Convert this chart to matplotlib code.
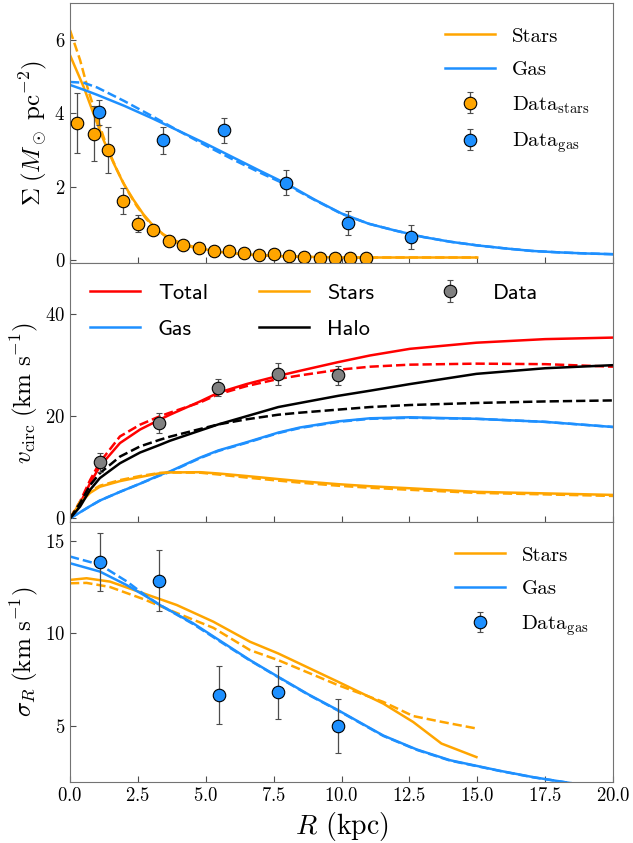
import matplotlib
matplotlib.use("Agg")
import matplotlib.pyplot as plt

plt.rcParams['font.family'] = 'serif'
plt.rcParams['font.serif'] = ['cmr10']
plt.rcParams['mathtext.fontset'] = 'cm'
plt.rcParams['axes.formatter.use_mathtext'] = True

orange = '#FFA500'
blue = '#1E90FF'

# surface density
r_sd_star = [0, 0.5, 0.86, 1.23, 1.6, 1.96, 2.33, 2.7, 3.07, 3.44, 3.8, 4.3, 4.8, 5.5, 6.5, 8, 10, 12.5, 15]
sd_star = [5.58, 4.72, 4.0, 3.28, 2.65, 2.1, 1.65, 1.25, 0.93, 0.70, 0.55, 0.41, 0.32, 0.22, 0.15, 0.1, 0.07, 0.07, 0.07]
r_sd_star_d = [0, 0.37, 0.67, 0.98, 1.35, 1.72, 2.09, 2.46, 2.82, 3.19, 3.56, 4.05, 4.8, 5.5, 6.5, 8, 10, 12.5, 15]
sd_star_d = [6.26, 5.45, 4.63, 3.91, 3.1, 2.47, 1.92, 1.47, 1.11, 0.84, 0.62, 0.43, 0.30, 0.21, 0.15, 0.1, 0.07, 0.07, 0.07]
r_sd_gas = [0, 0.5, 1, 2, 3, 4, 5, 6, 7, 8, 9, 10, 11, 12, 13, 14, 15, 16, 17, 18, 19, 20]
sd_gas = [4.77, 4.64, 4.5, 4.2, 3.87, 3.52, 3.17, 2.8, 2.43, 2.07, 1.65, 1.27, 0.99, 0.8, 0.63, 0.5, 0.4, 0.32, 0.25, 0.21, 0.18, 0.16]
sd_gas_d = [4.85, 4.83, 4.7, 4.33, 3.93, 3.52, 3.12, 2.74, 2.38, 2.04, 1.64, 1.26, 0.99, 0.8, 0.63, 0.5, 0.4, 0.32, 0.25, 0.21, 0.18, 0.16]

r_obs_star = [0.27, 0.88, 1.39, 1.96, 2.49, 3.07, 3.66, 4.17, 4.75, 5.31, 5.86, 6.42, 6.97, 7.52, 8.08, 8.63, 9.19, 9.76, 10.31, 10.89]
sd_obs_star = [3.73, 3.44, 2.99, 1.61, 0.99, 0.81, 0.51, 0.41, 0.33, 0.25, 0.24, 0.18, 0.15, 0.16, 0.12, 0.09, 0.06, 0.07, 0.06, 0.05]
sd_obs_star_err = [0.82, 0.75, 0.63, 0.36, 0.23, 0.08, 0.06, 0.05, 0.04, 0.04, 0.03, 0.03, 0.03, 0.03, 0.02, 0.02, 0.02, 0.02, 0.02, 0.02]
r_obs_gas1 = [1.08, 3.41, 5.67, 7.96, 10.25, 12.55]
sd_obs_gas = [4.02, 3.26, 3.53, 2.1, 1.0, 0.62]
sd_obs_gas_err = [0.34, 0.36, 0.34, 0.34, 0.33, 0.33]

# rotation curve
r_v = [0, 0.37, 0.74, 1.1, 1.84, 2.58, 3.31, 3.68, 4.79, 5.46, 6.5, 7.67, 8.47, 9.88, 11.05, 12.52, 14.97, 17.5, 20]
v_tot = [0, 2.95, 6.9, 10.2, 14.75, 17.4, 19.35, 20.3, 22.9, 24.6, 26.3, 27.9, 28.9, 30.6, 31.9, 33.2, 34.4, 35.1, 35.4]
v_tot_d = [0, 3.3, 7.5, 11.0, 16.05, 18.35, 20.0, 20.7, 22.7, 24.3, 25.9, 27.3, 28.0, 29.1, 29.7, 30.1, 30.3, 30.2, 29.7]
v_halo = [0, 2.3, 5.6, 7.9, 10.8, 12.9, 14.4, 15.2, 17.2, 18.4, 20.0, 21.8, 22.6, 24.0, 25.0, 26.3, 28.3, 29.4, 30.0]
v_halo_d = [0, 3.0, 6.5, 8.85, 12.1, 14.1, 15.4, 16.0, 17.5, 18.4, 19.4, 20.3, 20.7, 21.3, 21.8, 22.2, 22.6, 22.9, 23.1]
v_gas = [0, 1.2, 2.4, 3.5, 5.2, 6.8, 8.5, 9.2, 11.9, 13.3, 14.9, 16.8, 17.8, 19.0, 19.6, 19.8, 19.5, 18.9, 17.9]
v_gas_d = [0, 1.2, 2.4, 3.5, 5.2, 6.8, 8.4, 9.1, 11.8, 13.2, 14.8, 16.7, 17.7, 18.9, 19.5, 19.7, 19.5, 18.9, 17.9]
v_star = [0, 3.0, 5.0, 6.2, 7.3, 8.1, 8.85, 9.0, 9.05, 8.8, 8.3, 7.7, 7.3, 6.7, 6.3, 5.9, 5.2, 4.9, 4.6]
v_star_d = [0, 3.3, 5.3, 6.4, 7.5, 8.3, 8.9, 9.0, 8.95, 8.6, 8.0, 7.4, 7.0, 6.4, 6.0, 5.6, 5.0, 4.7, 4.4]
r_obs_v = [1.1, 3.29, 5.46, 7.67, 9.88]
v_obs = [11.0, 18.7, 25.6, 28.3, 28.0]
v_obs_err = [1.9, 1.9, 1.7, 2.1, 1.85]

# velocity dispersion
r_s_gas = [0, 1.1, 2.09, 2.82, 3.31, 4.54, 5.49, 6.63, 7.67, 8.8, 9.88, 11.54, 12.77, 14.0, 15.84, 17.06, 18.17, 20]
s_gas = [13.78, 13.33, 12.6, 11.98, 11.53, 10.54, 9.64, 8.56, 7.66, 6.7, 5.86, 4.5, 3.75, 3.17, 2.6, 2.26, 2.0, 1.6]
s_gas_d = [14.14, 13.7, 12.8, 12.0, 11.53, 10.5, 9.6, 8.54, 7.64, 6.68, 5.84, 4.48, 3.73, 3.15, 2.59, 2.25, 2.0, 1.6]
r_s_star = [0, 0.61, 1.47, 2.7, 3.93, 5.28, 6.63, 7.67, 9.88, 11.54, 12.64, 13.68, 14.97]
s_star = [12.88, 12.97, 12.79, 12.16, 11.53, 10.63, 9.55, 8.92, 7.39, 6.22, 5.23, 4.07, 3.34]
s_star_d = [12.7, 12.72, 12.5, 11.85, 11.1, 10.3, 9.1, 8.56, 7.21, 6.31, 5.55, 5.24, 4.88]
r_obs_s = [1.1, 3.29, 5.49, 7.67, 9.88]
s_obs = [13.85, 12.84, 6.67, 6.82, 5.0]
s_obs_err = [1.55, 1.65, 1.55, 1.45, 1.45]

fig = plt.figure(figsize=(6.33, 8.43), dpi=100)
ax1 = fig.add_axes([0.1106, 0.688, 0.8578, 0.3084])
ax2 = fig.add_axes([0.1106, 0.3808, 0.8578, 0.3072])
ax3 = fig.add_axes([0.1106, 0.0724, 0.8578, 0.3084])

lw = 1.8
ebkw = dict(fmt='o', ms=9, mec='k', mew=0.8, ecolor='0.3', elinewidth=0.9, capsize=2, capthick=0.9)

ax1.plot(r_sd_star, sd_star, color=orange, lw=lw, label='Stars')
ax1.plot(r_sd_star_d, sd_star_d, color=orange, lw=lw, ls='--')
ax1.plot(r_sd_gas, sd_gas, color=blue, lw=lw, label='Gas')
ax1.plot(r_sd_gas, sd_gas_d, color=blue, lw=lw, ls='--')
ax1.errorbar(r_obs_star, sd_obs_star, yerr=sd_obs_star_err, mfc=orange, label=r'Data$_{\rm stars}$', zorder=5, **ebkw)
ax1.errorbar(r_obs_gas1, sd_obs_gas, yerr=sd_obs_gas_err, mfc=blue, label=r'Data$_{\rm gas}$', zorder=5, **ebkw)
ax1.set_ylim(-0.08, 7)
ax1.set_yticks([0, 2, 4, 6])
ax1.set_ylabel(r'$\Sigma\;(M_\odot\ \mathrm{pc}^{-2})$', fontsize=18)
ax1.legend(loc='upper right', frameon=False, fontsize=15, handlelength=2.4, labelspacing=0.72, borderaxespad=0.75)

ax2.plot(r_v, v_tot, color='red', lw=lw, label='Total')
ax2.plot(r_v, v_tot_d, color='red', lw=lw, ls='--')
ax2.plot(r_v, v_gas, color=blue, lw=lw, label='Gas')
ax2.plot(r_v, v_gas_d, color=blue, lw=lw, ls='--')
ax2.plot(r_v, v_star, color=orange, lw=lw, label='Stars')
ax2.plot(r_v, v_star_d, color=orange, lw=lw, ls='--')
ax2.plot(r_v, v_halo, color='k', lw=lw, label='Halo')
ax2.plot(r_v, v_halo_d, color='k', lw=lw, ls='--')
ax2.errorbar(r_obs_v, v_obs, yerr=v_obs_err, mfc='grey', label='Data', zorder=5, **ebkw)
ax2.set_ylim(-0.7, 50)
ax2.set_yticks([0, 20, 40])
ax2.set_ylabel(r'$v_{\rm circ}\;(\mathrm{km\ s}^{-1})$', fontsize=18)
ax2.legend(loc='upper left', ncol=3, frameon=False, prop={'family': 'cmss10', 'size': 16},
           handlelength=2.25, columnspacing=2.3, labelspacing=0.75)

ax3.plot(r_s_star, s_star, color=orange, lw=lw, label='Stars')
ax3.plot(r_s_star, s_star_d, color=orange, lw=lw, ls='--')
ax3.plot(r_s_gas, s_gas, color=blue, lw=lw, label='Gas')
ax3.plot(r_s_gas, s_gas_d, color=blue, lw=lw, ls='--')
ax3.errorbar(r_obs_s, s_obs, yerr=s_obs_err, mfc=blue, label=r'Data$_{\rm gas}$', zorder=5, **ebkw)
ax3.set_ylim(2, 16)
ax3.set_yticks([5, 10, 15])
ax3.set_ylabel(r'$\sigma_R\;(\mathrm{km\ s}^{-1})$', fontsize=18)
ax3.set_xlabel(r'$R$ (kpc)', fontsize=20)
ax3.legend(loc='upper right', frameon=False, fontsize=15, handlelength=2.4, labelspacing=0.72, borderaxespad=0.75)

for ax in [ax1, ax2, ax3]:
    ax.set_xlim(0, 20)
    ax.set_xticks([0, 2.5, 5, 7.5, 10, 12.5, 15, 17.5, 20])
    ax.tick_params(direction='in', labelsize=13.5, color='0.3', length=4)
    for s in ax.spines.values():
        s.set_color('0.45')
for ax in [ax1, ax2]:
    ax.tick_params(labelbottom=False)
fig.align_ylabels([ax1, ax2, ax3])

fig.savefig('out.png', dpi=100)
